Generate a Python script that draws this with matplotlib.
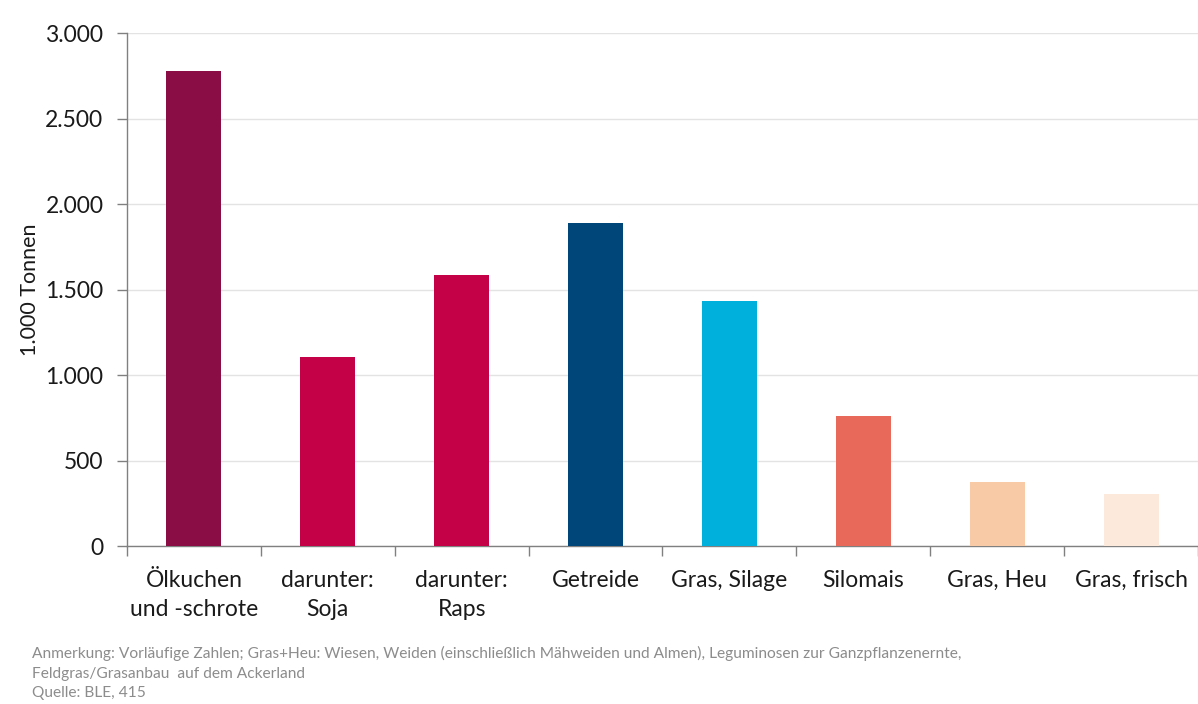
import numpy as np
import matplotlib.pyplot as plt
from matplotlib.ticker import FuncFormatter

# Futtermittel-Aufkommen in 1.000 Tonnen
categories = ['Ölkuchen\nund -schrote', 'darunter:\nSoja', 'darunter:\nRaps', 'Getreide',
              'Gras, Silage', 'Silomais', 'Gras, Heu', 'Gras, frisch']
values = [2775, 1105, 1585, 1889, 1433, 760, 374, 304]
colors = ['#8B0D45', '#C40046', '#C40046', '#004678', '#00B0DC', '#E8695A', '#F8CBA6', '#FDE9DC']
yticks = [0, 500, 1000, 1500, 2000, 2500, 3000]

note = ('Anmerkung: Vorläufige Zahlen; Gras+Heu: Wiesen, Weiden (einschließlich Mähweiden und Almen), '
        'Leguminosen zur Ganzpflanzenernte,\nFeldgras/Grasanbau  auf dem Ackerland\nQuelle: BLE, 415')

plt.rcParams['font.family'] = ['Lato', 'DejaVu Sans']

fig = plt.figure(figsize=(11.98, 7.04), dpi=100)
ax = fig.add_axes([0.106, 0.2244, 0.894, 0.7287])

x = np.arange(len(categories))
ax.bar(x, values, width=0.41, color=colors, zorder=3)

ax.set_xlim(-0.5, len(categories) - 0.5)
ax.set_ylim(0, 3000)
ax.set_yticks(yticks)
ax.yaxis.set_major_formatter(FuncFormatter(lambda v, p: f'{int(v):,}'.replace(',', '.')))
ax.grid(axis='y', color='#E3E3E3', linewidth=1, zorder=0)

# category labels centred, ticks on the category borders
ax.set_xticks(x)
ax.set_xticklabels(categories, fontsize=16.5, color='#1a1a1a', linespacing=1.5)
ax.tick_params(axis='x', length=0, pad=17)
ax.set_xticks(np.arange(len(categories) + 1) - 0.5, minor=True)
ax.tick_params(axis='x', which='minor', length=7, color='#808080', width=1)
ax.tick_params(axis='y', length=7, color='#808080', width=1, labelsize=16.5, labelcolor='#1a1a1a', pad=10)

for s in ['top', 'right']:
    ax.spines[s].set_visible(False)
for s in ['left', 'bottom']:
    ax.spines[s].set_color('#808080')
    ax.spines[s].set_linewidth(1)

ax.set_ylabel('1.000 Tonnen', fontsize=15.5, color='#1a1a1a', labelpad=4)

fig.text(0.027, 0.005, note, fontsize=11.2, color='#8c8c8c', ha='left', va='bottom', linespacing=1.5)

fig.savefig('out.png', dpi=100)
